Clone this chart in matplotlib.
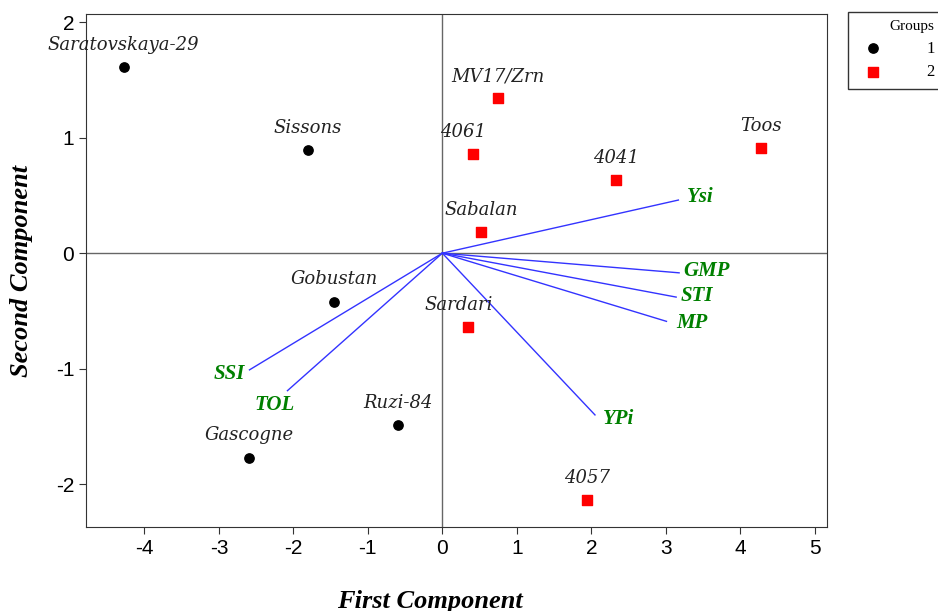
import matplotlib.pyplot as plt

plt.rcParams["axes.unicode_minus"] = False

# genotypes (group 1 = black circles, group 2 = red squares)
names1 = ["Saratovskaya-29", "Sissons", "Gobustan", "Ruzi-84", "Gascogne"]
pc1_g1 = [-4.28, -1.81, -1.45, -0.59, -2.59]
pc2_g1 = [1.61, 0.89, -0.42, -1.49, -1.77]

names2 = ["MV17/Zrn", "4061", "4041", "Toos", "Sabalan", "Sardari", "4057"]
pc1_g2 = [0.75, 0.41, 2.33, 4.28, 0.52, 0.35, 1.94]
pc2_g2 = [1.34, 0.86, 0.63, 0.91, 0.18, -0.64, -2.14]

# indices (loadings)
indices = ["Ysi", "GMP", "STI", "MP", "YPi", "SSI", "TOL"]
load1 = [3.17, 3.18, 3.14, 3.01, 2.05, -2.59, -2.08]
load2 = [0.46, -0.17, -0.38, -0.59, -1.40, -1.01, -1.19]

fig = plt.figure(figsize=(9.38, 6.11), dpi=100)
ax = fig.add_axes([0.0917, 0.1375, 0.7903, 0.8395])

ax.axhline(0, color="#666666", lw=1, zorder=1)
ax.axvline(0, color="#666666", lw=1, zorder=1)

# vectors
for x, y in zip(load1, load2):
    ax.plot([0, x], [0, y], color="#3333ff", lw=1, zorder=2)

vec_off = {"Ysi": (6, 2, "left"), "GMP": (3, 1, "left"), "STI": (3, 1, "left"),
           "MP": (7, -1, "left"), "YPi": (6, -3, "left"),
           "SSI": (-3, -3, "right"), "TOL": (5, -10, "right")}
for lab, x, y in zip(indices, load1, load2):
    dx, dy, ha = vec_off[lab]
    ax.annotate(lab, (x, y), xytext=(dx, dy), textcoords="offset points",
                ha=ha, va="center", color="#008000", fontsize=15,
                family="Liberation Serif", style="italic", weight="bold")

ax.scatter(pc1_g1, pc2_g1, s=45, color="black", marker="o", zorder=3, label="1")
ax.scatter(pc1_g2, pc2_g2, s=55, color="red", marker="s", zorder=3, label="2")

name_off = {"4061": (-7, 16), "Sardari": (-7, 16)}
for lab, x, y in list(zip(names1, pc1_g1, pc2_g1)) + list(zip(names2, pc1_g2, pc2_g2)):
    dx, dy = name_off.get(lab, (0, 16))
    ax.annotate(lab, (x, y), xytext=(dx, dy), textcoords="offset points",
                ha="center", va="center", fontsize=13,
                family="DejaVu Serif", style="italic", color="#222222")

ax.set_xlim(-4.785, 5.17)
ax.set_ylim(-2.37, 2.07)
ax.set_xticks(range(-4, 6))
ax.set_yticks(range(-2, 3))
ax.tick_params(direction="out", length=5, labelsize=15, color="#333333")
for t in ax.get_xticklabels() + ax.get_yticklabels():
    t.set_family("Liberation Sans")
for s in ax.spines.values():
    s.set_color("#333333")

ax.set_xlabel("First Component", fontsize=19, family="Liberation Serif",
              style="italic", weight="bold")
ax.xaxis.set_label_coords((430 - 86) / 741, -0.122)
ax.set_ylabel("Second Component", fontsize=19, family="Liberation Serif",
              style="italic", weight="bold")
ax.yaxis.set_label_coords(-0.072, 0.5)

leg = fig.legend(loc="upper left", bbox_to_anchor=(848 / 938, 1 - 12 / 611),
                 title="Groups", markerfirst=True, frameon=True, fancybox=False,
                 edgecolor="black", handletextpad=2.2, borderaxespad=0,
                 labelspacing=0.45, borderpad=0.5,
                 prop={"family": "Liberation Serif", "size": 12},
                 title_fontproperties={"family": "Liberation Serif", "size": 11})
leg._legend_box.align = "right"

fig.savefig("out.png", dpi=100)
